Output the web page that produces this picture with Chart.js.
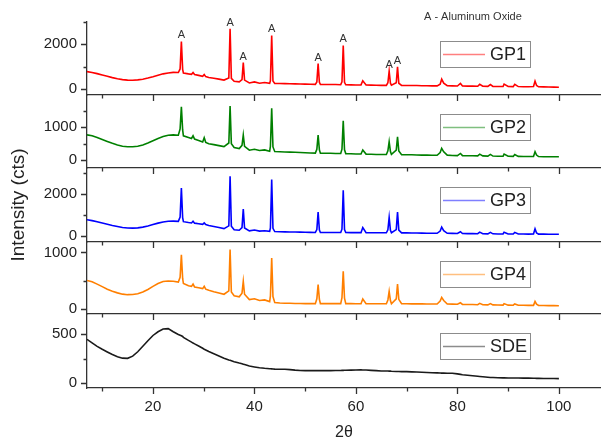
<!DOCTYPE html>
<html>
<head>
<meta charset="utf-8">
<script src="https://cdn.jsdelivr.net/npm/chart.js@4.4.1/dist/chart.umd.min.js"></script>
<style>
  html, body { margin: 0; padding: 0; background: #fff; }
  #wrap { position: relative; width: 601px; height: 441px; }
  #wrap canvas { position: absolute; left: 0; top: 0; }
</style>
</head>
<body>
<div id="wrap">
  <canvas id="c1" width="601" height="441"></canvas>
  <canvas id="c2" width="601" height="441"></canvas>
  <canvas id="c3" width="601" height="441"></canvas>
  <canvas id="c4" width="601" height="441"></canvas>
  <canvas id="c5" width="601" height="441"></canvas>
</div>
<script>
// 2theta positions (deg), shared by all patterns
const twoTheta = [
  7, 8, 9, 10, 11, 12, 13, 14, 15, 16, 17, 18, 19, 20, 21, 22, 23, 24, 25,
  25.35, 25.6, 25.85, 26, 27, 27.6, 27.9, 28.2, 29, 29.8, 30.1, 30.4, 31, 32, 33, 34,
  34.95, 35.2, 35.45, 36, 37, 37.55, 37.8, 38.05, 39, 40, 41, 42, 43,
  43.15, 43.4, 43.65, 44, 45, 46, 47, 48, 49, 50, 51, 52,
  52.3, 52.55, 52.8, 53, 54, 55, 56, 57, 57.25, 57.5, 57.75, 58, 59, 60, 61, 61.35, 62, 63, 64, 65, 66,
  66.3, 66.55, 66.8, 67, 67.95, 68.2, 68.45, 69, 70, 71, 72, 73, 74, 75, 76,
  76.6, 76.9, 77.3, 78, 79, 80, 80.6, 81, 82, 83, 84, 84.4, 85, 86, 86.5, 87, 88, 89, 89.2, 90,
  91, 91.3, 92, 93, 94, 95, 95.3, 95.6, 96, 97, 98, 99, 100
];

const gp1 = [
  780, 740, 690, 630, 570, 510, 460, 420, 400, 395, 410, 440, 490, 550, 620, 680, 720, 745, 740,
  900, 2130, 880, 720, 680, 660, 740, 650, 610, 570, 650, 555, 520, 480, 445, 400,
  500, 2700, 480, 350, 320, 420, 1185, 400, 270, 320, 260, 290, 255,
  380, 2400, 360, 250, 245, 240, 235, 230, 225, 220, 215, 210,
  320, 1140, 300, 205, 205, 200, 200, 195, 320, 1950, 300, 190, 185, 180, 185, 370, 180, 175, 170, 165, 165,
  280, 800, 260, 170, 280, 990, 260, 165, 160, 160, 155, 150, 145, 140, 140,
  220, 440, 260, 150, 140, 135, 250, 140, 130, 130, 125, 210, 125, 120, 200, 120, 115, 115, 220, 115,
  110, 210, 110, 105, 105, 110, 355, 160, 100, 95, 90, 85, 80
];

const gp2 = [
  770, 740, 690, 630, 570, 510, 460, 420, 405, 405, 420, 460, 520, 590, 660, 720, 760, 770, 760,
  950, 1630, 920, 740, 690, 660, 740, 640, 600, 550, 680, 540, 500, 470, 440, 410,
  520, 1650, 500, 380, 350, 450, 765, 420, 300, 330, 290, 310, 270,
  420, 1580, 400, 260, 254, 245, 240, 235, 228, 220, 215, 210,
  330, 765, 310, 210, 205, 205, 200, 200, 330, 1200, 310, 195, 190, 185, 185, 306, 180, 175, 170, 170, 170,
  280, 560, 260, 170, 300, 713, 280, 165, 160, 160, 155, 150, 150, 145, 145,
  230, 358, 250, 150, 140, 135, 200, 135, 130, 130, 125, 180, 125, 120, 170, 120, 115, 115, 180, 115,
  110, 170, 110, 105, 105, 110, 254, 150, 105, 100, 100, 100, 100
];

const gp3 = [
  770, 730, 680, 620, 560, 500, 450, 400, 375, 370, 385, 420, 470, 540, 610, 660, 700, 705, 695,
  900, 2290, 870, 680, 640, 620, 700, 610, 580, 550, 620, 540, 500, 450, 400, 350,
  480, 2850, 460, 290, 270, 400, 1280, 380, 240, 280, 230, 250, 215,
  380, 2690, 360, 210, 200, 195, 190, 185, 180, 175, 170, 165,
  300, 1140, 280, 165, 160, 160, 160, 160, 320, 2175, 300, 160, 158, 155, 155, 400, 155, 150, 150, 150, 150,
  290, 880, 270, 150, 300, 1140, 280, 145, 145, 140, 140, 135, 130, 125, 125,
  230, 418, 250, 125, 120, 115, 200, 115, 110, 110, 105, 180, 105, 100, 170, 100, 95, 95, 180, 95,
  90, 170, 90, 90, 85, 90, 336, 140, 85, 85, 80, 80, 80
];

const gp4 = [
  505, 480, 440, 395, 350, 315, 285, 262, 253, 255, 270, 300, 345, 400, 450, 485, 495, 490, 475,
  560, 960, 540, 450, 410, 400, 440, 390, 375, 360, 400, 350, 330, 305, 283, 260,
  320, 1050, 300, 235, 215, 280, 490, 260, 165, 180, 150, 160, 130,
  230, 900, 220, 115, 105, 100, 100, 98, 96, 95, 95, 94,
  180, 430, 170, 94, 94, 94, 94, 94, 200, 665, 190, 94, 94, 93, 93, 177, 93, 92, 92, 92, 92,
  160, 311, 150, 92, 180, 442, 170, 92, 92, 91, 90, 90, 89, 89, 88,
  140, 205, 150, 88, 85, 83, 110, 82, 80, 78, 76, 100, 75, 73, 95, 72, 70, 69, 95, 68,
  67, 90, 66, 65, 64, 64, 134, 85, 62, 61, 60, 59, 58
];

const sde = [
  446, 410, 375, 345, 318, 292, 270, 255, 253, 275, 320, 375, 432, 485, 523, 550, 555, 523, 495,
  488, 482, 475, 466, 435, 418, 408, 400, 378, 355, 345, 338, 322, 300, 277, 255,
  237, 233, 229, 219, 205, 198, 194, 190, 175, 166, 158, 152, 148,
  147, 146, 145, 144, 143, 142, 138, 133, 130, 128, 128, 128,
  128, 128, 128, 128, 128, 128, 129, 130, 131, 131, 132, 132, 133, 135, 136, 135, 134, 131, 128, 125, 124,
  124, 123, 123, 122, 120, 120, 119, 118, 118, 116, 114, 112, 110, 107, 105,
  104, 103, 103, 102, 101, 95, 90, 87, 81, 76, 71, 69, 66, 61, 59, 58, 56, 55, 55, 54,
  53, 53, 53, 52, 52, 51, 51, 50, 50, 49, 48, 48, 47
];

// x axis ticks and the aluminium oxide peaks marked with "A" on GP1
const xTicks = [10, 20, 30, 40, 50, 60, 70, 80, 90, 100];
const aPeaks = [25.6, 35.2, 37.8, 43.4, 52.55, 57.5, 66.55, 68.2];

const FONT = "'Liberation Sans', Arial, sans-serif";
Chart.defaults.font.family = FONT;
Chart.defaults.color = '#222';

const panels = [
  { id: 'c1', label: 'GP1', values: gp1, color: '#ff0000', top: 22, bottom: 95, min: -267, max: 3000, major: [0, 2000], minor: [1000, 3000], peaks: aPeaks },
  { id: 'c2', label: 'GP2', values: gp2, color: '#008000', top: 95, bottom: 168, min: -245, max: 1990, major: [0, 1000], minor: [500, 1500] },
  { id: 'c3', label: 'GP3', values: gp3, color: '#0000ff', top: 168, bottom: 242, min: -290, max: 3240, major: [0, 2000], minor: [1000, 3000], yTitle: true },
  { id: 'c4', label: 'GP4', values: gp4, color: '#ff7f00', top: 242, bottom: 314, min: -89, max: 1185, major: [0, 1000], minor: [500] },
  { id: 'c5', label: 'SDE', values: sde, color: '#1a1a1a', top: 314, bottom: 388, min: -48, max: 703, major: [0, 500], minor: [250], last: true }
];

const AXIS = '#333';

// ticks (major/minor), legend box and peak labels
const panelDecor = {
  id: 'panelDecor',
  afterDraw(chart, args, opts) {
    const { ctx, chartArea: a, scales: { x, y } } = chart;
    const p = opts.panel;
    ctx.save();
    ctx.strokeStyle = AXIS;
    ctx.lineWidth = 1.3;
    ctx.beginPath();
    xTicks.forEach(v => {
      const px = Math.round(x.getPixelForValue(v)) + 0.5;
      ctx.moveTo(px, a.bottom);
      ctx.lineTo(px, a.bottom + (v % 20 === 0 ? 6 : 3.5));
    });
    p.major.forEach(v => {
      const py = Math.round(y.getPixelForValue(v)) + 0.5;
      ctx.moveTo(a.left - 6, py);
      ctx.lineTo(a.left, py);
    });
    p.minor.forEach(v => {
      const py = Math.round(y.getPixelForValue(v)) + 0.5;
      ctx.moveTo(a.left - 3.5, py);
      ctx.lineTo(a.left, py);
    });
    ctx.stroke();

    // legend
    const ds = chart.data.datasets[0];
    const bx = a.left + 353, by = a.top + 19, bw = 90, bh = 26;
    ctx.fillStyle = '#fff';
    ctx.fillRect(bx, by, bw, bh);
    ctx.strokeStyle = '#8c8c8c';
    ctx.lineWidth = 1;
    ctx.strokeRect(bx + 0.5, by + 0.5, bw, bh);
    ctx.globalAlpha = 0.5;
    ctx.strokeStyle = ds.borderColor;
    ctx.lineWidth = 1.5;
    ctx.beginPath();
    ctx.moveTo(bx + 3, by + bh / 2 + 0.5);
    ctx.lineTo(bx + 45, by + bh / 2 + 0.5);
    ctx.stroke();
    ctx.globalAlpha = 1;
    ctx.fillStyle = '#222';
    ctx.font = '18px ' + FONT;
    ctx.textBaseline = 'middle';
    ctx.textAlign = 'left';
    ctx.fillText(ds.label, bx + 50, by + bh / 2 + 1);

    if (p.peaks) {
      ctx.font = '11px ' + FONT;
      ctx.textAlign = 'center';
      ctx.fillStyle = '#333';
      p.peaks.forEach(t => {
        const v = p.values[twoTheta.indexOf(t)];
        ctx.fillText('A', x.getPixelForValue(t), y.getPixelForValue(v) - 6);
      });
      ctx.textAlign = 'left';
      ctx.fillText('A - Aluminum Oxide', a.left + 337, 17);
    }
    ctx.restore();
  }
};

panels.forEach(p => {
  const xH = p.last ? 53 : 0;
  new Chart(document.getElementById(p.id), {
    type: 'line',
    data: {
      datasets: [{
        label: p.label,
        data: twoTheta.map((t, i) => ({ x: t, y: p.values[i] })),
        borderColor: p.color,
        borderWidth: 1.6,
        pointRadius: 0,
        tension: 0,
        fill: false
      }]
    },
    options: {
      responsive: false,
      animation: false,
      devicePixelRatio: 1,
      events: [],
      layout: { padding: { top: p.top, bottom: 441 - p.bottom - xH, left: 0, right: 0 } },
      plugins: {
        legend: { display: false },
        tooltip: { enabled: false },
        panelDecor: { panel: p }
      },
      scales: {
        x: {
          type: 'linear',
          min: 7,
          max: 108.3,
          afterBuildTicks: s => { s.ticks = xTicks.filter(v => v % 20 === 0).map(v => ({ value: v })); },
          afterFit: s => { s.height = xH; },
          grid: { display: false, drawTicks: false },
          border: { display: true, color: AXIS, width: 1.3 },
          ticks: { display: !!p.last, padding: 10, font: { size: 15 }, color: '#222', callback: v => String(v) },
          title: { display: !!p.last, text: '2θ', font: { size: 16, lineHeight: 1 }, padding: 0, color: '#222' }
        },
        y: {
          min: p.min,
          max: p.max,
          afterBuildTicks: s => { s.ticks = p.major.map(v => ({ value: v })); },
          afterFit: s => { s.width = 87; },
          grid: { display: false, drawTicks: false },
          border: { display: true, color: AXIS, width: 1.3 },
          ticks: { padding: 10, font: { size: 15 }, color: '#222', callback: v => String(v) },
          title: { display: !!p.yTitle, text: 'Intensity (cts)', font: { size: 19 }, padding: { top: 7, bottom: 0 }, color: '#222' }
        }
      }
    },
    plugins: [panelDecor]
  });
});
</script>
</body>
</html>
